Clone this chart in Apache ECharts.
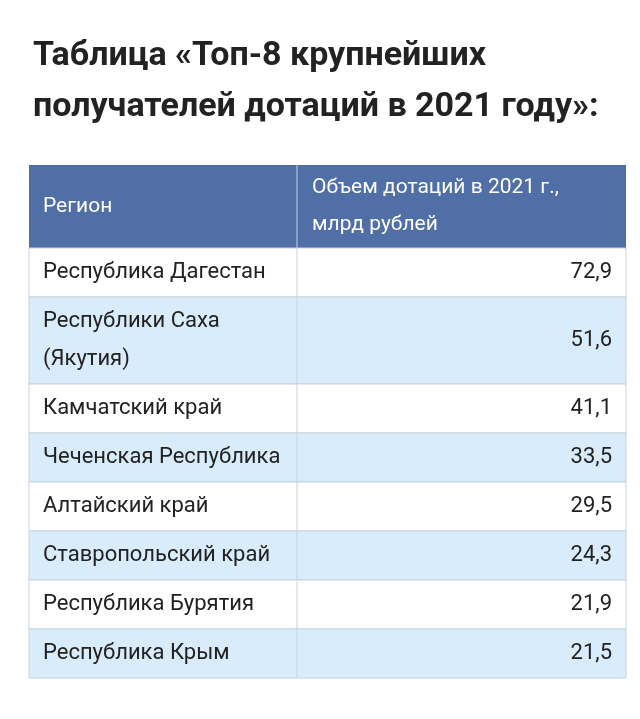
<!DOCTYPE html>
<html><head><meta charset="utf-8">
<script src="https://cdn.jsdelivr.net/npm/echarts@6/dist/echarts.min.js"></script>
<style>html,body{margin:0;padding:0;background:#fff}#c{width:640px;height:719px}</style>
</head><body><div id="c"></div>
<script>
const titleLines = ['Таблица «Топ-8 крупнейших', 'получателей дотаций в 2021 году»:'];
const headers = ['Регион', 'Объем дотаций в 2021 г.,\nмлрд рублей'];
const regions = ['Республика Дагестан', 'Республики Саха\n(Якутия)', 'Камчатский край', 'Чеченская Республика', 'Алтайский край', 'Ставропольский край', 'Республика Бурятия', 'Республика Крым'];
const values = [72.9, 51.6, 41.1, 33.5, 29.5, 24.3, 21.9, 21.5];

const chart = echarts.init(document.getElementById('c'));
const L = 29, R = 626, MID = 297, TOP = 165, HEAD = 83, LINE1 = 49, LINEX = 38;
function rowH(i){ return LINE1 + (regions[i].split('\n').length - 1) * LINEX; }
function rowTop(i){ let y = TOP + HEAD; for (let k = 0; k < i; k++) y += rowH(k); return y; }
const fmt = v => v.toFixed(1).replace('.', ',');
const font = 'Roboto, "Noto Sans", sans-serif';

chart.setOption({
  animation: false,
  title: { text: titleLines.join('\n'), left: 28, top: 26,
    textStyle: { fontFamily: font, fontSize: 34, fontWeight: 'bold', color: '#222', lineHeight: 51 } },
  grid: { left: 0, right: 0, top: 0, bottom: 0 },
  xAxis: { type: 'value', min: 0, max: 640, show: false },
  yAxis: { type: 'value', min: 0, max: 719, inverse: true, show: false },
  series: [{
    type: 'custom', coordinateSystem: 'cartesian2d',
    data: [-1].concat(values.map((v, i) => i)),
    renderItem: function (params, api) {
      const i = api.value(0);
      const p = (x, y) => api.coord([x, y]);
      if (i < 0) {
        const a = p(L, TOP), b = p(R, TOP + HEAD);
        return { type: 'group', children: [
          { type: 'rect', shape: { x: a[0], y: a[1], width: b[0] - a[0], height: b[1] - a[1] }, style: { fill: '#4f6fa6' } },
          { type: 'line', shape: { x1: p(MID,0)[0], y1: a[1], x2: p(MID,0)[0], y2: b[1] }, style: { stroke: '#c8d2de', lineWidth: 1 } },
          { type: 'text', style: { x: a[0] + 14, y: (a[1] + b[1]) / 2, text: headers[0], fill: '#fff', font: '21px ' + font, verticalAlign: 'middle' } },
          { type: 'text', style: { x: p(MID,0)[0] + 15, y: (a[1] + b[1]) / 2, text: headers[1], fill: '#fff', font: '21px ' + font, verticalAlign: 'middle', lineHeight: 37 } }
        ]};
      }
      const t = rowTop(i), h = rowH(i);
      const a = p(L, t), b = p(R, t + h);
      const cy = (a[1] + b[1]) / 2;
      return { type: 'group', children: [
        { type: 'rect', shape: { x: a[0], y: a[1], width: b[0] - a[0], height: b[1] - a[1] },
          style: { fill: i % 2 ? '#d9ecfb' : '#ffffff', stroke: '#c8d2de', lineWidth: 1 } },
        { type: 'line', shape: { x1: p(MID,0)[0], y1: a[1], x2: p(MID,0)[0], y2: b[1] }, style: { stroke: '#c8d2de', lineWidth: 1 } },
        { type: 'text', style: { x: a[0] + 14, y: cy, text: regions[i], fill: '#222', font: '22px ' + font, verticalAlign: 'middle', lineHeight: 38 } },
        { type: 'text', style: { x: b[0] - 14, y: cy, text: fmt(values[i]), fill: '#222', font: '22px ' + font, verticalAlign: 'middle', align: 'right' } }
      ]};
    }
  }]
});
</script></body></html>
